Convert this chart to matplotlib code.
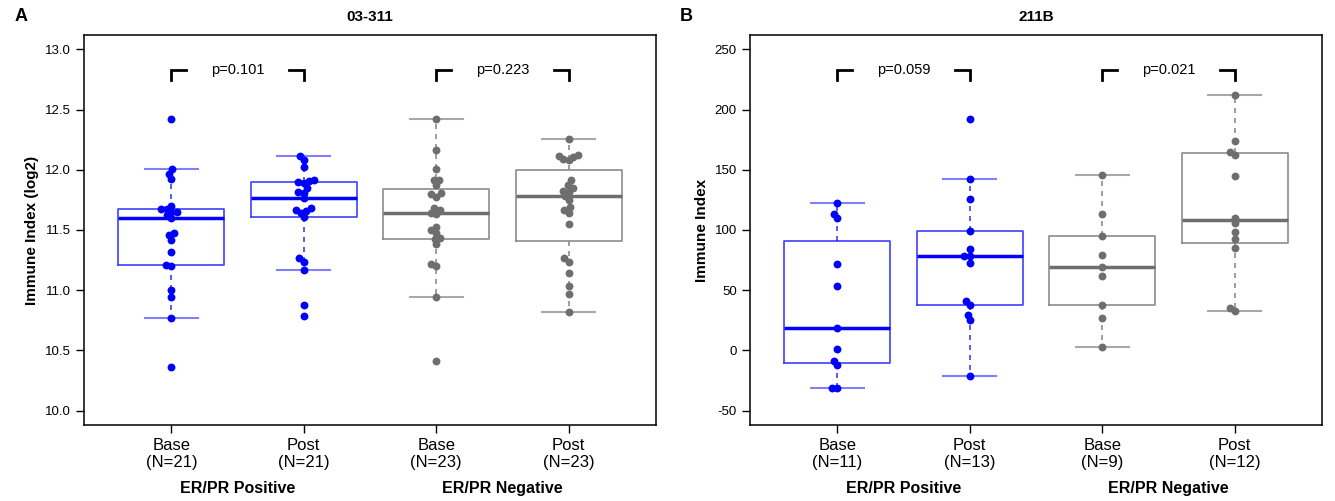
import numpy as np
import matplotlib
matplotlib.use("Agg")
import matplotlib.pyplot as plt
import matplotlib.transforms as mtransforms

plt.rcParams['font.family'] = ['Liberation Sans Narrow', 'Liberation Sans', 'DejaVu Sans']

# --- data ---
groups = ["Base", "Post", "Base", "Post"]
group_pairs = ["ER/PR Positive", "ER/PR Negative"]

# panel A: 03-311, Immune Index (log2)
a_n = [21, 21, 23, 23]
a_pos_base = [12.42, 12.007, 11.966, 11.924, 11.70, 11.675, 11.675, 11.652, 11.65, 11.625, 11.60,
              11.478, 11.458, 11.417, 11.317, 11.21, 11.20, 11.0, 10.94, 10.77, 10.36]
a_pos_post = [12.115, 12.081, 12.026, 11.915, 11.909, 11.90, 11.888, 11.846, 11.818, 11.81, 11.763,
              11.68, 11.666, 11.658, 11.644, 11.605, 11.265, 11.237, 11.17, 10.877, 10.788]
a_neg_base = [12.42, 12.164, 12.004, 11.915, 11.915, 11.874, 11.805, 11.80, 11.777, 11.68, 11.666,
              11.637, 11.639, 11.527, 11.50, 11.478, 11.431, 11.425, 11.381, 11.215, 11.204, 10.941, 10.412]
a_neg_post = [12.253, 12.123, 12.115, 12.106, 12.087, 12.081, 11.915, 11.874, 11.846, 11.826, 11.816,
              11.78, 11.749, 11.689, 11.666, 11.644, 11.55, 11.265, 11.237, 11.14, 11.037, 10.968, 10.821]
a_pvals = ["p=0.101", "p=0.223"]

# panel B: 211B, Immune Index
b_n = [11, 13, 9, 12]
b_pos_base = [122.7, 113.0, 109.7, 71.5, 53.2, 18.4, 1.4, -8.6, -12.1, -31.5, -31.5]
b_pos_post = [191.9, 142.4, 125.7, 98.9, 84.2, 78.7, 78.7, 72.3, 41.3, 37.7, 29.4, 25.2, -21.5]
b_neg_base = [145.7, 113.3, 95.3, 79.5, 69.5, 61.5, 37.5, 26.7, 3.0]
b_neg_post = [212.1, 173.9, 165.0, 162.3, 145.1, 110.2, 105.6, 98.6, 92.3, 85.3, 35.5, 33.0]
b_pvals = ["p=0.059", "p=0.021"]

BLUE = "#0000FF"
GRAY = "#6E6E6E"
SANS = ["Liberation Sans", "DejaVu Sans"]


def fivenum(v):
    # Tukey hinges like R's boxplot
    v = np.sort(np.asarray(v, float))
    n = len(v)
    n4 = np.floor((n + 3) / 2) / 2
    d = np.array([1, n4, (n + 1) / 2, n + 1 - n4, n]) - 1
    return 0.5 * (v[np.floor(d).astype(int)] + v[np.ceil(d).astype(int)])


def box_stats(v):
    lo, q1, med, q3, hi = fivenum(v)
    iqr = q3 - q1
    v = np.asarray(v, float)
    inside = v[(v >= q1 - 1.5 * iqr) & (v <= q3 + 1.5 * iqr)]
    return dict(med=med, q1=q1, q3=q3, whislo=inside.min(), whishi=inside.max(), fliers=[])


def swarm(ax, vals, xpos, diam_px):
    # simple beeswarm: place each point at the nearest free x-offset
    pts = ax.transData.transform(np.column_stack([np.full(len(vals), xpos), vals]))
    ys = pts[:, 1]
    order = np.argsort(vals)
    placed = []
    xoff = np.zeros(len(vals))
    for i in order:
        forb = []
        for (px, py) in placed:
            dy = abs(ys[i] - py)
            if dy < diam_px:
                w = np.sqrt(diam_px ** 2 - dy ** 2)
                forb.append((px - w, px + w))
        cands = [0.0] + [e for f in forb for e in f]
        cands.sort(key=lambda c: (abs(c), c))
        for c in cands:
            if all(not (f[0] + 1e-6 < c < f[1] - 1e-6) for f in forb):
                xoff[i] = c
                break
        placed.append((xoff[i], ys[i]))
    x0 = ax.transData.transform((xpos, 0))[0]
    x1 = ax.transData.transform((xpos + 1, 0))[0]
    return xpos + xoff / (x1 - x0)


def panel(ax, data, ns, pvals, ylim, yticks, yfmt, ylabel, title, letter, bracket_y):
    ax.set_xlim(0.34, 4.66)
    ax.set_ylim(*ylim)
    cols = [BLUE, BLUE, GRAY, GRAY]
    for i, (vals, col) in enumerate(zip(data, cols)):
        st = box_stats(vals)
        light = (0, 0, 1, 0.75) if col == BLUE else "#8C8C8C"
        lighter = (0, 0, 1, 0.5) if col == BLUE else "#A8A8A8"
        ax.bxp([st], positions=[i + 1], widths=0.8, capwidths=0.4, showfliers=False,
               boxprops=dict(color=light, linewidth=1.2),
               whiskerprops=dict(color=light, linewidth=1.2, linestyle=(0, (3, 3))),
               capprops=dict(color=lighter, linewidth=1.5),
               medianprops=dict(color=col, linewidth=2.5))
        xs = swarm(ax, vals, i + 1, 5.5)
        ax.scatter(xs, vals, s=32, color=col, zorder=3, linewidths=0)

    # brackets with p-values
    yr = ylim[1] - ylim[0]
    for k, p in enumerate(pvals):
        left, right = 2 * k + 1, 2 * k + 2
        ytop = bracket_y
        ybot = bracket_y - 0.026 * yr
        ax.plot([left, left, left + 0.11], [ybot, ytop, ytop], color="black", lw=2,
                solid_joinstyle="miter")
        ax.plot([right - 0.11, right, right], [ytop, ytop, ybot], color="black", lw=2,
                solid_joinstyle="miter")
        ax.text((left + right) / 2, ytop, p, ha="center", va="center", fontsize=10.5,
                family=SANS)

    ax.set_yticks(yticks)
    ax.set_yticklabels([yfmt.format(t) for t in yticks], fontsize=9.5)
    ax.set_xticks([1, 2, 3, 4])
    ax.set_xticklabels([f"{g}\n(N={n})" for g, n in zip(groups, ns)], fontsize=12,
                       family=SANS, linespacing=1.25)
    ax.tick_params(axis="both", direction="out", length=6, width=1)
    ax.tick_params(axis="x", pad=3)
    for s in ax.spines.values():
        s.set_linewidth(1.1)
    ax.set_ylabel(ylabel, fontsize=11, fontweight="bold", labelpad=4, family=SANS)
    ax.set_title(title, fontsize=11, fontweight="bold", pad=10, family=SANS)
    trans = mtransforms.blended_transform_factory(ax.transData, ax.transAxes)
    for k, g in enumerate(group_pairs):
        ax.text(2 * k + 1.5, -0.163, g, transform=trans, ha="center", va="center",
                fontsize=11.5, fontweight="bold", family=SANS)
    ax.text(-0.122, 1.047, letter, transform=ax.transAxes, fontsize=13, fontweight="bold",
            ha="left", va="center", family=SANS)


fig = plt.figure(figsize=(13.35, 5.01), dpi=100)
axA = fig.add_axes([84 / 1335, 76 / 501, 572 / 1335, 390 / 501])
axB = fig.add_axes([750 / 1335, 76 / 501, 572 / 1335, 390 / 501])

panel(axA, [a_pos_base, a_pos_post, a_neg_base, a_neg_post], a_n, a_pvals,
      (9.88, 13.12), np.arange(10.0, 13.01, 0.5), "{:.1f}", "Immune Index (log2)",
      "03-311", "A", 12.83)
panel(axB, [b_pos_base, b_pos_post, b_neg_base, b_neg_post], b_n, b_pvals,
      (-62, 262), np.arange(-50, 251, 50), "{:.0f}", "Immune Index",
      "211B", "B", 233)

fig.savefig("out.png", dpi=100)
